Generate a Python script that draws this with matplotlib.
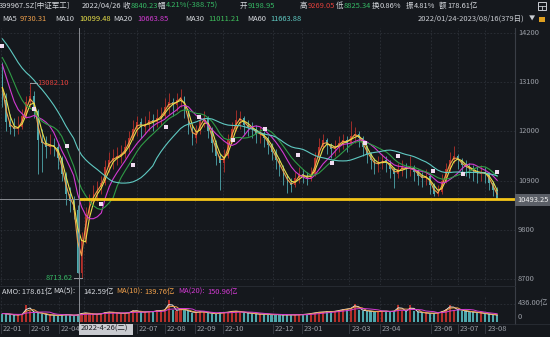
import numpy as np
import pandas as pd
import matplotlib.pyplot as plt
from matplotlib.patches import Rectangle
from matplotlib.lines import Line2D

W, H = 550, 337
BG = "#15181d"
GRID = "#2c3038"
UP = "#b5302b"
DOWN = "#4fa8ad"
TXT = "#d6d9de"
AXIS_TXT = "#9a9ea6"
GREEN = "#35b864"
RED = "#e0403c"
MA_COLORS = {"MA5": "#f0a04b", "MA10": "#e8e04a", "MA20": "#d23ad2",
             "MA30": "#2f9b46", "MA60": "#5fc9c2"}

plt.rcParams["font.family"] = ["Liberation Sans Narrow", "Noto Sans CJK SC", "DejaVu Sans"]

# 399967 中证军工, three-session bars from 2022-01-24 to 2023-08-16 (379 sessions)
pre_close = [14300, 14500, 14700, 14900, 15000, 14800, 14600, 14400, 14300, 14000,
             13700, 13850, 14050, 14150, 14200, 14050, 13900, 13350, 13000, 13250]

bar_close = [
    12700, 12200, 12100, 12050, 12100, 12350, 12650, 12800, 12450, 11800,
    11750, 11650, 11700, 11650, 11400, 11050, 10600, 10450, 10250, 8840.23,
    9600, 10150, 10450, 10600, 10750, 10850, 11200, 11350, 11400, 11450,
    11500, 11650, 11850, 12050, 12200, 12100, 12150, 12250, 12200, 12300,
    12350, 12550, 12650, 12600, 12700, 12780, 12450, 12100, 11850, 12000,
    12250, 12300, 12000, 11750, 11450, 11300, 11450, 11800, 12050, 12250,
    12300, 12150, 12100, 12050, 11950, 11950, 11850, 11700, 11550, 11350,
    11200, 11000, 10850, 10800, 10950, 11050, 11000, 10950, 11050, 11400,
    11650, 11800, 11700, 11600, 11650, 11750, 11800, 11750, 11900, 11950,
    11850, 11650, 11500, 11350, 11250, 11300, 11350, 11300, 11150, 11050,
    11150, 11200, 11150, 11200, 11100, 11000, 10950, 11000, 10800, 10600,
    10650, 10900, 11150, 11350, 11450, 11350, 11250, 11200, 11150, 11100,
    11050, 11100, 11050, 10850, 10700, 10493.25,
]
bar_high = [
    13550, 12850, 12400, 12300, 12350, 12500, 12800, 13082.10, 12900, 12500,
    12050, 11900, 11950, 11850, 11750, 11450, 11100, 10750, 10550, 10350,
    9750, 10300, 10600, 10800, 10900, 11000, 11350, 11550, 11600, 11650,
    11700, 11800, 12000, 12250, 12350, 12300, 12350, 12450, 12400, 12500,
    12550, 12750, 12850, 12750, 12850, 12950, 12800, 12500, 12150, 12150,
    12400, 12450, 12350, 12100, 11800, 11500, 11600, 11950, 12200, 12480,
    12450, 12350, 12250, 12200, 12150, 12100, 12000, 11900, 11750, 11600,
    11400, 11250, 11050, 10950, 11100, 11200, 11150, 11100, 11200, 11550,
    11850, 11950, 11850, 11750, 11800, 11900, 11950, 11900, 12230, 12100,
    12000, 11900, 11700, 11550, 11400, 11450, 11500, 11450, 11350, 11200,
    11300, 11350, 11300, 11450, 11250, 11150, 11100, 11150, 11050, 10850,
    10800, 11050, 11300, 11550, 11670, 11500, 11400, 11350, 11300, 11250,
    11200, 11250, 11200, 11100, 10900, 10750,
]
bar_low = [
    12550, 12000, 11950, 11900, 11950, 12050, 12300, 12550, 12300, 11050,
    11100, 11400, 11500, 11450, 11150, 10900, 10350, 10200, 10050, 8825.34,
    8713.62, 9500, 10050, 10350, 10450, 10600, 10800, 11100, 11150, 11250,
    11300, 11400, 11550, 11800, 11900, 11850, 11950, 12000, 12000, 12100,
    12150, 12300, 12400, 12350, 12450, 12550, 12300, 11950, 11700, 11750,
    11950, 12100, 11850, 11550, 11250, 10700, 11100, 11400, 11750, 12000,
    12050, 11950, 11900, 11850, 11750, 11750, 11650, 11500, 11350, 11150,
    11000, 10800, 10620, 10650, 10750, 10850, 10850, 10800, 10900, 11000,
    11350, 11600, 11500, 11400, 11450, 11550, 11600, 11550, 11700, 11750,
    11650, 11450, 11300, 11150, 11050, 11100, 11150, 11100, 10950, 10730,
    10950, 11000, 10950, 11000, 10900, 10800, 10750, 10800, 10600, 10550,
    10550, 10600, 10850, 11100, 11300, 11150, 11050, 11000, 10950, 10900,
    10850, 10900, 10850, 10700, 10550, 10480,
]
# turnover, 亿
bar_amount = [
    200, 190, 170, 165, 170, 190, 400, 260, 210, 230,
    190, 170, 160, 165, 150, 170, 180, 160, 150, 178.61,
    220, 210, 190, 180, 190, 200, 240, 230, 220, 210,
    200, 210, 230, 290, 240, 230, 240, 250, 240, 280,
    260, 300, 520, 280, 270, 320, 280, 250, 220, 230,
    250, 230, 210, 200, 190, 230, 220, 240, 260, 250,
    240, 220, 210, 200, 190, 180, 190, 180, 170, 180,
    170, 160, 175, 165, 170, 175, 180, 190, 210, 220,
    240, 230, 250, 240, 260, 280, 300, 310, 330, 430,
    290, 270, 260, 250, 240, 250, 260, 250, 240, 270,
    400, 250, 260, 390, 250, 230, 220, 210, 200, 210,
    220, 260, 300, 410, 290, 300, 270, 250, 240, 230,
    220, 210, 190, 180, 170, 160,
]

month_labels = ["22-01", "22-03", "22-04", "22-05", "22-06", "22-07", "22-08", "22-09",
                "22-10", "22-12", "23-01", "23-03", "23-04", "23-06", "23-07", "23-08"]
month_start = [0, 21, 44, 63, 82, 103, 124, 147, 168, 206, 228, 264, 287, 326, 346, 367]

y_ticks = [14200, 13100, 12000, 10900, 9800, 8700]

marker_idx = [1, 25, 50, 76, 100, 125, 150, 176, 200, 225, 251, 276, 301, 327, 350, 376]
marker_val = [13909, 12501, 11673, 10377, 11248, 12098, 12322, 11807, 12053, 11472,
              11293, 11740, 11450, 11114, 11047, 11092]

cursor_idx = 59          # 2022-04-26
cursor_price = 10493.25
hi_idx, lo_idx = 7, 20   # bars holding the period high / low

ma_windows = {"MA5": 2, "MA10": 3, "MA20": 7, "MA30": 10, "MA60": 20}

XLIM = (-0.8, 389.5)
YLIM = (8566, 14312)
FS = 5.4


def box(x0, y0, x1, y1):
    return [x0 / W, 1 - y1 / H, (x1 - x0) / W, (y1 - y0) / H]


def put(x, y, s, color=TXT, size=FS, **kw):
    kw.setdefault("ha", "left")
    fig.text(x / W, 1 - y / H, s, color=color, fontsize=size, va="center", **kw)


def to_px(idx):
    return (idx - XLIM[0]) / (XLIM[1] - XLIM[0]) * 515


fig = plt.figure(figsize=(W / 100, H / 100), dpi=100, facecolor=BG)

closes = np.array(bar_close, dtype=float)
opens = np.r_[pre_close[-1], closes[:-1]]
highs = np.array(bar_high)
lows = np.array(bar_low)
xs = np.arange(len(closes)) * 3 + 1
rising = closes >= opens
colors = np.where(rising, UP, DOWN)

# ---- price panel
ax = fig.add_axes(box(0, 28, 515, 285))
ax.set_facecolor(BG)
ax.set_xlim(*XLIM)
ax.set_ylim(*YLIM)
ax.axis("off")

for v in y_ticks:
    ax.axhline(v, color=GRID, lw=0.6, ls=(0, (2, 2)), zorder=0)
for m in month_start:
    ax.axvline(m, color=GRID, lw=0.6, ls=(0, (2, 2)), zorder=0)

ax.vlines(xs, lows, highs, colors=colors, lw=0.6, zorder=1)
body_lo = np.minimum(opens, closes)
body_h = np.maximum(np.abs(closes - opens), 15)
ax.bar(xs, body_h, bottom=body_lo, width=1.3, color=colors, lw=0, zorder=2)

full = pd.Series(list(pre_close) + list(closes))
for name, win in ma_windows.items():
    ma = full.rolling(win, min_periods=1).mean().to_numpy()[len(pre_close):]
    ax.plot(xs, ma, color=MA_COLORS[name], lw=0.8, zorder=3)

ax.scatter(marker_idx, marker_val, marker="s", s=5, color="#f1dcf1", lw=0, zorder=6)

ax.axhline(cursor_price, color="#8a8d93", lw=0.7, zorder=4)
ax.plot([cursor_idx, XLIM[1]], [cursor_price, cursor_price], color="#f5c518", lw=2.0,
        solid_capstyle="butt", zorder=5)

hx = xs[hi_idx]
ax.plot([hx, hx + 5], [highs[hi_idx]] * 2, color="#9a9ca2", lw=0.7, zorder=6)
ax.text(hx + 5.5, highs[hi_idx], f"{highs[hi_idx]:.2f}", color=RED, fontsize=FS,
        va="center", ha="left", zorder=7)
lx = xs[lo_idx]
ax.plot([lx - 6, lx], [lows[lo_idx]] * 2, color="#9a9ca2", lw=0.7, zorder=6)
ax.text(lx - 6.5, lows[lo_idx], f"{lows[lo_idx]:.2f}", color=GREEN, fontsize=FS,
        va="center", ha="right", zorder=7)

# ---- turnover panel
vmax = 436 * 26 / 18.5
axv = fig.add_axes(box(0, 296, 515, 322))
axv.set_facecolor(BG)
axv.set_xlim(*XLIM)
axv.set_ylim(0, vmax)
axv.axis("off")
axv.axhline(436, color=GRID, lw=0.6, ls=(0, (2, 2)), zorder=0)
for m in month_start:
    axv.axvline(m, color=GRID, lw=0.6, ls=(0, (2, 2)), zorder=0)
amount = pd.Series(bar_amount, dtype=float)
axv.bar(xs, amount, width=1.6, color=colors, lw=0, zorder=1)
for win, col in [(2, "#e6e6e6"), (3, "#f0a04b"), (7, "#d23ad2")]:
    axv.plot(xs, amount.rolling(win, min_periods=1).mean(), color=col, lw=0.7, zorder=2)

# ---- frame lines
cx = to_px(cursor_idx)
fig.add_artist(Line2D([515 / W] * 2, [1 - 28 / H, 1 - 324 / H], color="#3a3e46", lw=0.8))
fig.add_artist(Line2D([0, 515 / W], [1 - 285.5 / H] * 2, color="#2a2e35", lw=0.6))
fig.add_artist(Line2D([0, 1], [1 - 323.5 / H] * 2, color="#2a2e35", lw=0.6))
fig.add_artist(Line2D([cx / W] * 2, [1 - 28 / H, 1 - 324 / H], color="#8a8d93", lw=0.7))

# ---- right axis labels
for v in y_ticks:
    yp = 28 + (YLIM[1] - v) / (YLIM[1] - YLIM[0]) * 257
    put(518, yp, f"{v}", AXIS_TXT)
put(517, 200, f"{cursor_price:.2f}", "#f0f0f0",
    bbox=dict(boxstyle="square,pad=0.3", fc="#5b5f67", ec="none"))
put(518, 302.5, "436.00亿", AXIS_TXT)
put(518, 317, "0", AXIS_TXT)

# ---- date strip; the cursor date tag sits over the labels it covers
tag_w = 54
for lab, m in zip(month_labels, month_start):
    xp = to_px(m)
    fig.add_artist(Line2D([xp / W] * 2, [1 - 324 / H, 1 - 333 / H], color="#3a3e46", lw=0.6))
    if cx <= xp + 2 <= cx + tag_w:
        continue
    put(xp + 2, 329, lab, AXIS_TXT)
fig.add_artist(Rectangle((cx / W, 1 - 334.5 / H), tag_w / W, 11 / H, transform=fig.transFigure,
                         fc="#c9cbd0", ec="none", zorder=5))
put(cx + 2, 329, "2022-4-26(二)", "#1b1d22", zorder=6)

# ---- header rows
put(-1, 6, "399967.SZ[中证军工]")
put(82, 6, "2022/04/26")
put(123, 6, "收"); put(131, 6, "8840.23", GREEN)
put(158, 6, "幅"); put(166, 6, "4.21%(-388.75)", GREEN)
put(240, 6, "开"); put(248, 6, "9198.95", GREEN)
put(300, 6, "高"); put(308, 6, "9269.05", RED)
put(336, 6, "低"); put(344, 6, "8825.34", GREEN)
put(372, 6, "换"); put(380, 6, "0.86%")
put(406, 6, "振"); put(414, 6, "4.81%")
put(439, 6, "额"); put(447, 6, "178.61亿")

put(2, 19, "MA5"); put(20, 19, "9730.31", MA_COLORS["MA5"])
put(55, 19, "MA10"); put(79, 19, "10099.48", MA_COLORS["MA10"])
put(113, 19, "MA20"); put(137, 19, "10663.85", MA_COLORS["MA20"])
put(185, 19, "MA30"); put(208, 19, "11011.21", "#3ec05c")
put(247, 19, "MA60"); put(270, 19, "11663.88", MA_COLORS["MA60"])
put(418, 19, "2022/01/24-2023/08/16(379日)", "#c9ccd2")
put(529, 19, "▼", "#c9ccd2", size=4.5)

fig.add_artist(Rectangle((538 / W, 1 - 10 / H), 8 / W, 8 / H, transform=fig.transFigure,
                         fc="none", ec="#c9ccd2", lw=0.7))
fig.add_artist(Line2D([538 / W, 546 / W], [1 - 6 / H] * 2, color="#c9ccd2", lw=0.6))
fig.add_artist(Line2D([542 / W] * 2, [1 - 6 / H, 1 - 10 / H], color="#c9ccd2", lw=0.6))
fig.add_artist(Rectangle((539 / W, 1 - 22 / H), 6 / W, 5 / H, transform=fig.transFigure,
                         fc="#e0a020", ec="none"))

# ---- turnover caption
put(2, 292, "AMO: 178.61亿")
put(53, 292, "MA(5):"); put(83, 292, "142.59亿")
put(116, 292, "MA(10):", "#f0a04b"); put(144, 292, "139.76亿", "#f0a04b")
put(178, 292, "MA(20):", "#d23ad2"); put(207, 292, "150.96亿", "#d23ad2")

fig.savefig("out.png", dpi=100, facecolor=BG)
